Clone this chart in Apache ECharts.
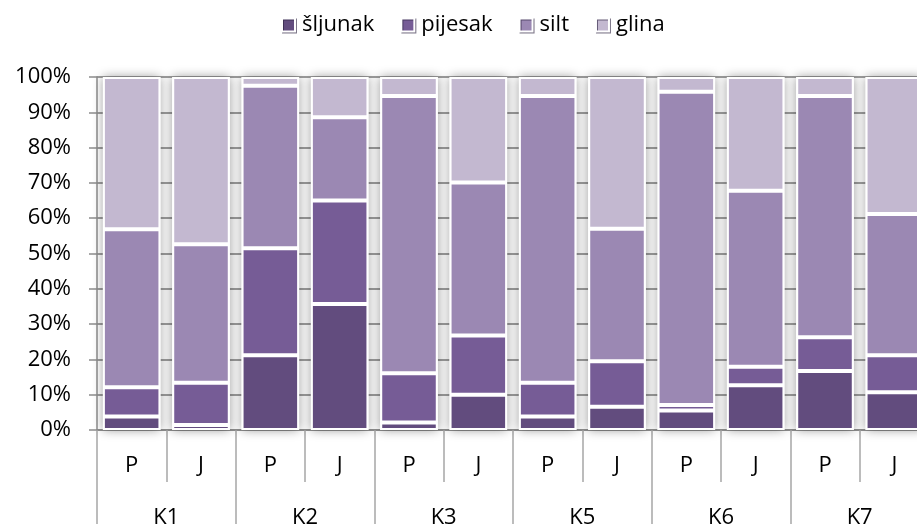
<!DOCTYPE html>
<html>
<head>
<meta charset="utf-8">
<script src="https://cdn.jsdelivr.net/npm/echarts@6/dist/echarts.min.js"></script>
<style>
  html, body { margin: 0; padding: 0; background: #fff; }
  #chart { width: 917px; height: 524px; }
</style>
</head>
<body>
<div id="chart"></div>
<script>
// Sample points: two samples (P, J) per site
const sampleLabels = ['P', 'J', 'P', 'J', 'P', 'J', 'P', 'J', 'P', 'J', 'P', 'J'];
const siteLabels = ['K1', 'K2', 'K3', 'K5', 'K6', 'K7'];

// Grain-size fractions in percent
const sljunak = [3.8, 1.4, 21.2, 35.7, 2.1, 10.0, 3.8, 6.6, 5.5, 12.7, 16.7, 10.7];
const pijesak = [8.3, 12.0, 30.3, 29.3, 14.0, 16.8, 9.6, 12.9, 1.6, 5.2, 9.6, 10.5];
const silt    = [44.8, 39.2, 46.0, 23.6, 78.5, 43.3, 81.2, 37.5, 88.7, 49.9, 68.3, 40.0];
const glina   = [43.1, 47.4, 2.5, 11.4, 5.4, 29.9, 5.4, 43.0, 4.2, 32.2, 5.4, 38.8];

const seriesNames = ['šljunak', 'pijesak', 'silt', 'glina'];
const seriesData = [sljunak, pijesak, silt, glina];
const seriesColors = ['#624c7e', '#765c96', '#9b88b3', '#c3b8d0'];

const FONT = '"Open Sans", "Noto Sans", sans-serif';
const chart = echarts.init(document.getElementById('chart'), null, { renderer: 'canvas' });

const series = seriesNames.map((name, i) => ({
  name: name,
  type: 'bar',
  stack: 'total',
  xAxisIndex: 0,
  yAxisIndex: 0,
  barWidth: '83%',
  data: seriesData[i],
  itemStyle: { color: seriesColors[i], borderColor: '#ffffff', borderWidth: 2 },
  // soft shading beside each column
  showBackground: i === 0,
  backgroundStyle: {
    color: '#ffffff',
    shadowBlur: 10,
    shadowColor: 'rgba(0,0,0,0.4)'
  },
  emphasis: { disabled: true }
}));

chart.setOption({
  animation: false,
  backgroundColor: '#ffffff',
  textStyle: { fontFamily: FONT },
  legend: {
    top: 14,
    left: 281,
    padding: 0,
    itemWidth: 13,
    itemHeight: 13,
    itemGap: 26,
    icon: 'rect',
    data: seriesNames,
    itemStyle: { shadowColor: 'rgba(40,30,60,0.6)', shadowOffsetX: 1, shadowOffsetY: 1 },
    textStyle: { fontFamily: FONT, fontSize: 22, color: '#000', padding: [0, 0, 0, 2] }
  },
  grid: {
    left: 97, top: 77, width: 832, height: 353,
    containLabel: false,
    outerBoundsMode: 'none'
  },
  xAxis: [
    {
      type: 'category',
      data: sampleLabels,
      position: 'bottom',
      axisLine: { show: true, lineStyle: { color: '#8c8c8c', width: 1.5 } },
      axisTick: { show: true, interval: 0, length: 52, lineStyle: { color: '#a6a6a6', width: 1.5 } },
      axisLabel: { interval: 0, margin: 25, fontSize: 22, color: '#000', fontFamily: FONT },
      splitLine: { show: false }
    },
    {
      type: 'category',
      data: siteLabels,
      position: 'bottom',
      axisLine: { show: false },
      axisTick: { show: true, interval: 0, length: 96, lineStyle: { color: '#a6a6a6', width: 1.5 } },
      axisLabel: { interval: 0, margin: 77, fontSize: 22, color: '#000', fontFamily: FONT },
      splitLine: { show: false }
    }
  ],
  yAxis: {
    type: 'value',
    min: 0,
    max: 100,
    interval: 10,
    axisLine: { show: true, lineStyle: { color: '#8c8c8c', width: 1.5 } },
    axisTick: { show: true, length: 8, lineStyle: { color: '#8c8c8c', width: 1.5 } },
    axisLabel: { formatter: '{value}%', margin: 26, fontSize: 22, color: '#000', fontFamily: FONT },
    splitLine: { show: true, lineStyle: { color: '#7f7f7f', width: 1.5 } }
  },
  series: series
});
</script>
</body>
</html>
